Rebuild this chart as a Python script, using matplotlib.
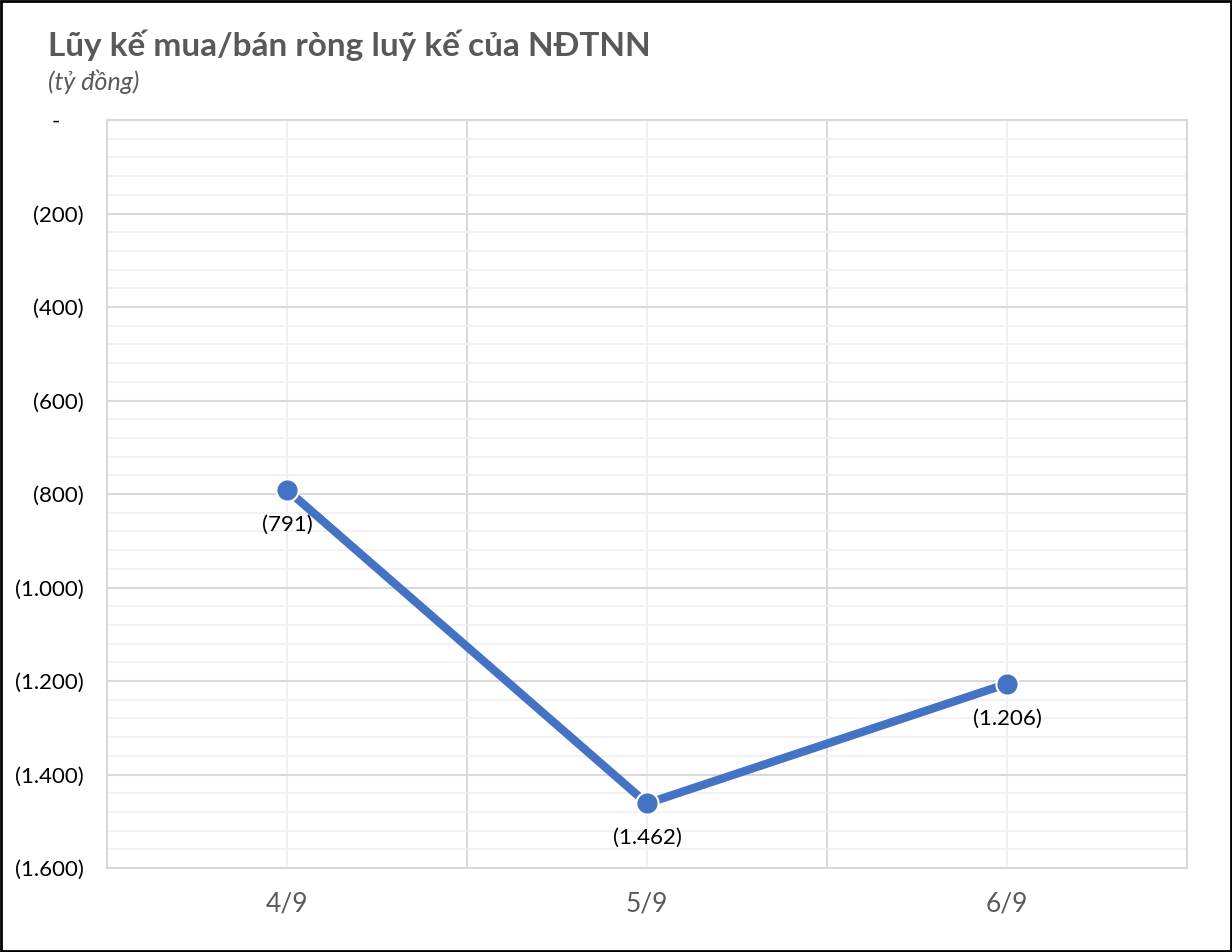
import numpy as np
import matplotlib
matplotlib.use("Agg")
import matplotlib.pyplot as plt
from matplotlib.ticker import MultipleLocator, FuncFormatter

# data
dates = ["4/9", "5/9", "6/9"]
values = [-791, -1462, -1206]
labels = ["(791)", "(1.462)", "(1.206)"]

plt.rcParams['font.family'] = ['Lato', 'DejaVu Sans']

fig = plt.figure(figsize=(12.32, 9.52), dpi=100)
ax = fig.add_axes([107/1232, 1 - 868/952, 1080/1232, 748/952])

x = np.arange(len(dates))
ax.plot(x, values, color='#4472C4', lw=6, solid_capstyle='round', zorder=3)
ax.plot(x, values, 'o', ms=16, mfc='#4472C4', mec='white', mew=1.5, zorder=4)

for xi, v, lab in zip(x, values, labels):
    ax.annotate(lab, (xi, v), xytext=(0, -25), textcoords='offset points',
                ha='center', va='center', fontsize=16, color='black')

ax.set_xlim(-0.5, len(dates) - 0.5)
ax.set_ylim(-1600, 0)

# y ticks, accounting style
def yfmt(v, pos):
    if v == 0:
        return "-    "
    return "({:,.0f})".format(-v).replace(",", ".")
ax.yaxis.set_major_locator(MultipleLocator(200))
ax.yaxis.set_minor_locator(MultipleLocator(40))
ax.yaxis.set_major_formatter(FuncFormatter(yfmt))

ax.set_xticks(x)
ax.set_xticklabels(dates, fontsize=19, color='#595959')
ax.set_xticks(np.arange(-0.5, len(dates), 1.0), minor=True)

ax.tick_params(axis='y', which='both', length=0, labelsize=16, labelcolor='black', pad=17)
ax.tick_params(axis='x', which='both', length=0, pad=17)

# grid
ax.grid(axis='y', which='major', color='#D9D9D9', lw=1.5)
ax.grid(axis='y', which='minor', color='#F0F0F0', lw=1.2)
ax.grid(axis='x', which='minor', color='#D9D9D9', lw=1.5)
ax.grid(axis='x', which='major', color='#F0F0F0', lw=1.5)
ax.set_axisbelow(True)
for s in ax.spines.values():
    s.set_color('#D9D9D9')
    s.set_linewidth(1.5)

fig.text(48/1232, 1 - 45/952, "Lũy kế mua/bán ròng luỹ kế của NĐTNN", fontsize=24,
         fontweight='bold', color='#595959', ha='left', va='center')
fig.text(48/1232, 1 - 82/952, "(tỷ đồng)", fontsize=18, style='italic',
         color='#595959', ha='left', va='center')

# outer border
fig.patches.append(plt.Rectangle((0.001, 0.001), 0.998, 0.998, transform=fig.transFigure,
                                 fill=False, edgecolor='black', lw=2))

fig.savefig("out.png", dpi=100)
